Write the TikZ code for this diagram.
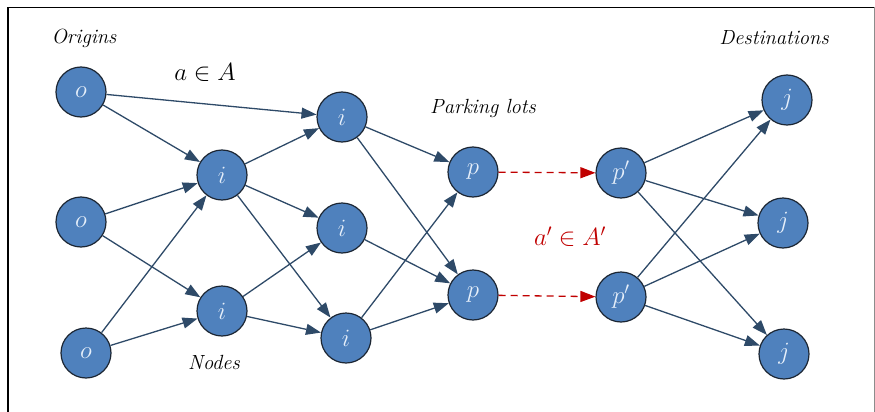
\documentclass[tikz,border=0pt]{standalone}
\usetikzlibrary{arrows.meta}
\definecolor{nodefill}{HTML}{4F81BD}
\definecolor{nodeline}{HTML}{1C2633}
\definecolor{edgecol}{HTML}{2E4A68}
\definecolor{arrred}{HTML}{C00000}
\definecolor{lbl}{HTML}{E6EFFA}
\tikzset{
  vert/.style={circle, fill=nodefill, draw=nodeline, line width=1.2pt,
    minimum size=50pt, inner sep=0pt, text=lbl, font=\fontsize{23}{23}\selectfont},
  edge/.style={draw=edgecol, line width=1.3pt, -{Triangle[length=15pt,width=11pt]}},
  redge/.style={draw=arrred, line width=1.3pt, dash pattern=on 7pt off 5pt,
    -{Triangle[length=15pt,width=11pt]}},
  lab/.style={font=\fontsize{20.5}{20.5}\selectfont\itshape, text=black},
  mathlab/.style={font=\fontsize{26}{26}\selectfont}
}
\begin{document}
\begin{tikzpicture}[x=1pt,y=-1pt]
\useasboundingbox (0,0) rectangle (875,412);
% frame
\draw[line width=1.3pt] (8,412) -- (8,7.5) -- (874,7.5);
\draw[line width=0.8pt, black!45] (874.3,7.5) -- (874.3,412);

% nodes
\node[vert] (o1) at (81,92) {$o$};
\node[vert] (o2) at (81,222) {$o$};
\node[vert] (o3) at (86,353) {$o$};
\node[vert] (i1) at (222,175) {$i$};
\node[vert] (i2) at (222,311) {$i$};
\node[vert] (i3) at (342,117) {$i$};
\node[vert] (i4) at (342,228) {$i$};
\node[vert] (i5) at (346,338) {$i$};
\node[vert] (p1) at (473,172) {$p$};
\node[vert] (p2) at (473,295) {$p$};
\node[vert] (q1) at (621,173) {$p'$};
\node[vert] (q2) at (621,297) {$p'$};
\node[vert] (j1) at (787,100) {$j$};
\node[vert] (j2) at (783,223) {$j$};
\node[vert] (j3) at (784,354) {$j$};

% labels
\node[lab] (origins) at (84,38) {Origins};
\node[lab] (destinations) at (774,38) {Destinations};
\node[lab] (parking) at (483,108) {Parking lots};
\node[lab] (nodeslbl) at (214,362) {Nodes};
\node[mathlab] (aA) at (205,72) {$a\in A$};
\node[mathlab, text=arrred] (aA2) at (570,237) {$a'\in A'$};

% edges
\draw[edge] (o1) -- (i1);
\draw[edge] (o1) -- (i3);
\draw[edge] (o2) -- (i1);
\draw[edge] (o2) -- (i2);
\draw[edge] (o3) -- (i1);
\draw[edge] (o3) -- (i2);
\draw[edge] (i1) -- (i3);
\draw[edge] (i1) -- (i4);
\draw[edge] (i1) -- (i5);
\draw[edge] (i2) -- (i4);
\draw[edge] (i2) -- (i5);
\draw[edge] (i3) -- (p1);
\draw[edge] (i3) -- (p2);
\draw[edge] (i4) -- (p2);
\draw[edge] (i5) -- (p1);
\draw[edge] (i5) -- (p2);
\draw[redge] (p1) -- (q1);
\draw[redge] (p2) -- (q2);
\draw[edge] (q1) -- (j1);
\draw[edge] (q1) -- (j2);
\draw[edge] (q1) -- (j3);
\draw[edge] (q2) -- (j1);
\draw[edge] (q2) -- (j2);
\draw[edge] (q2) -- (j3);
\end{tikzpicture}
\end{document}
